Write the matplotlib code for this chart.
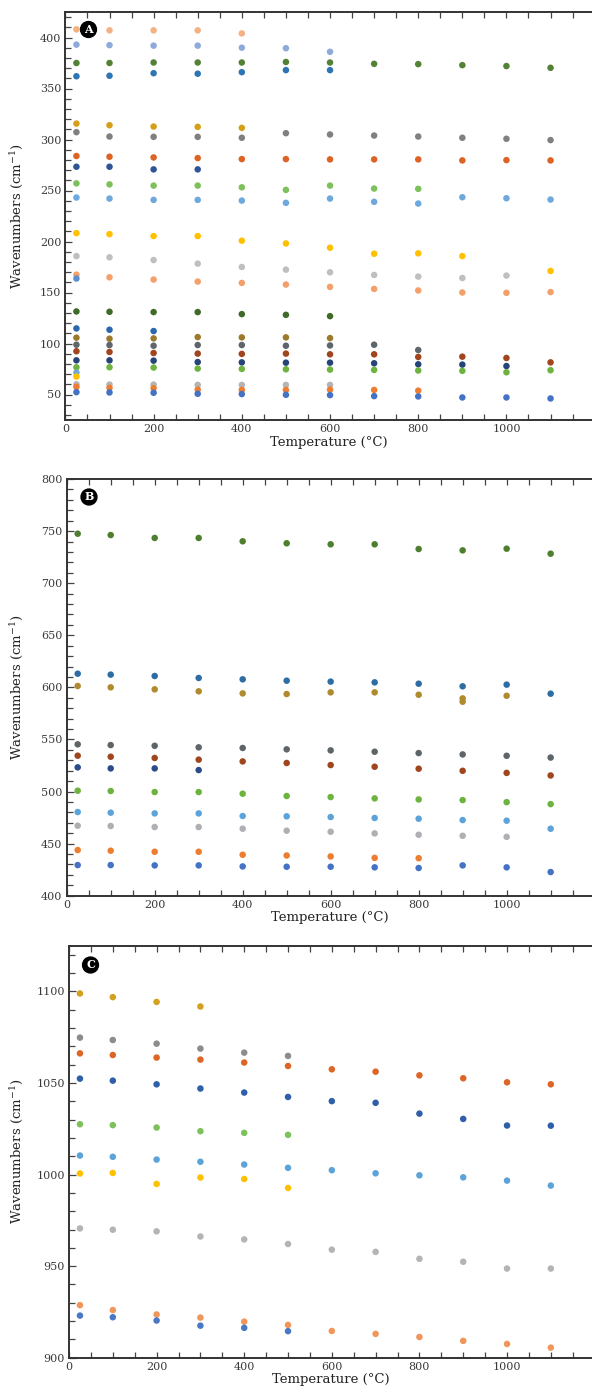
import numpy as np
import matplotlib
matplotlib.use("Agg")
import matplotlib.pyplot as plt
from matplotlib.ticker import MultipleLocator

nan = np.nan
temps = [25, 100, 200, 300, 400, 500, 600, 700, 800, 900, 1000, 1100]

# ---------------- Panel A ----------------
a_peach   = [408, 407, 407, 407, 404, nan, nan, nan, nan, nan, nan, nan]
a_lblue2  = [393, 392.5, 392, 392, 390, 389.5, 386, nan, nan, nan, nan, nan]
a_green   = [375, 375, 375.5, 375.5, 375.5, 376, 375.5, 374.2, 373.9, 372.9, 372, 370.3]
a_blue    = [362, 362.5, 365, 364.5, 366, 368, 368, nan, nan, nan, nan, nan]
a_gold    = [315.6, 314, 312.7, 312.4, 311.4, nan, nan, nan, nan, nan, nan, nan]
a_gray    = [307.2, 302.9, 302.6, 302.6, 301.7, 306.2, 304.9, 303.9, 302.9, 301.7, 300.7, 299.4]
a_orange  = [283.8, 283.1, 282.4, 281.8, 280.8, 280.8, 280.5, 280.5, 280.5, 279.5, 279.8, 279.5]
a_navy    = [273.3, 273.3, 270.7, 270.7, nan, nan, nan, nan, nan, nan, nan, nan]
a_lgreen  = [257, 256, 254.8, 254.8, 253.1, 250.6, 254.8, 251.9, 251.6, nan, nan, nan]
a_lblue   = [243.1, 242.1, 240.8, 240.8, 240.1, 237.9, 242.1, 238.9, 237.2, 243.4, 242.4, 241.1]
a_yellow  = [208.2, 207.2, 205.3, 205.3, 200.8, 198.1, 193.9, 188, 188.4, 185.7, nan, 171.1]
a_lgray   = [185.7, 184.5, 181.8, 178.3, 175, 172.4, 169.8, 167.2, 165.6, 164.2, 166.6, nan]
a_salmon  = [167.5, 164.9, 162.7, 160.7, 159.4, 157.8, 155.5, 153.5, 152, 150, 149.7, 150.4]
a_bluex   = [163.7, nan, nan, nan, nan, nan, nan, nan, nan, nan, nan, nan]
a_dgreen  = [131.4, 131.1, 130.8, 130.8, 128.8, 128.1, 126.8, nan, nan, nan, nan, nan]
a_blue2   = [114.8, 113.5, 112.2, nan, nan, nan, nan, nan, nan, nan, nan, nan]
a_brown   = [105.7, 104.7, 105, 106.3, 106, 106, 105.3, nan, nan, nan, nan, nan]
a_dgray   = [98.8, 98.5, 97.8, 98.5, 98.5, 97.8, 98.1, 98.8, 93.6, nan, nan, nan]
a_rust    = [92.4, 91.7, 90.7, 90.1, 89.8, 90.1, 89.4, 89.4, 86.8, 87.1, 85.8, 81.5]
a_navy2   = [83.5, 83.5, 83.2, 81.8, 81.5, 81.2, 81.2, 80.6, 79.6, 79.3, 77.9, nan]
a_green2  = [76.7, 76.7, 76.4, 75.4, 75.1, 74.7, 74.4, 74.1, 73.5, 73.2, 71.8, 73.8]
a_lbluex  = [71.5, nan, nan, nan, nan, nan, nan, nan, nan, nan, nan, nan]
a_yellowx = [67.6, nan, nan, nan, nan, nan, nan, nan, nan, nan, nan, nan]
a_lgray2  = [60, 59.7, 59.7, 59.4, 59.4, 59.4, 59.4, nan, nan, nan, nan, nan]
a_orange2 = [57.5, 56.5, 56.2, 54.8, 54.5, 54.5, 54.8, 54.5, 53.8, nan, nan, nan]
a_blue3   = [52.3, 52, 51.7, 50.7, 50.4, 49.7, 49.4, 48.4, 48.1, 47.1, 47.1, 46.1]

# ---------------- Panel B ----------------
b_green   = [747.5, 746.2, 743.4, 743.4, 740.2, 738.3, 737.3, 737.3, 732.8, 731.5, 733.1, 728.3]
b_blue    = [613.1, 612.2, 610.9, 609, 607.7, 606.4, 605.5, 604.8, 603.5, 601, 602.6, 593.9]
b_brown   = [601.3, 600, 598.1, 596.2, 594.2, 593.6, 595.2, 595.2, 592.9, 589.4, 591.9, nan]
b_brownx  = [nan, nan, nan, nan, nan, nan, nan, nan, nan, 586.2, nan, nan]
b_dgray   = [545.3, 544.6, 543.9, 542.4, 541.8, 540.5, 539.5, 538.2, 536.9, 535.6, 534.3, 532.6]
b_rust    = [534.4, 533.4, 532.2, 530.6, 528.9, 527.4, 525.4, 523.8, 521.9, 519.9, 517.9, 515.4]
b_navy    = [523.2, 522.2, 522.2, 520.6, nan, nan, nan, nan, nan, nan, nan, nan]
b_green2  = [500.8, 500.5, 499.5, 499.5, 497.9, 495.7, 494.7, 493.4, 492.4, 491.8, 489.8, 487.9]
b_lblue   = [480.3, 479.7, 479, 479, 476.5, 476.2, 475.5, 474.6, 473.9, 472.6, 472, 464.3]
b_lgray   = [467.2, 466.9, 465.9, 465.9, 464.3, 462.4, 461.4, 459.8, 458.5, 457.5, 456.5, nan]
b_orange  = [443.8, 443.2, 442.2, 442.2, 439.3, 438.6, 437.7, 436.3, 436, nan, nan, nan]
b_blue2   = [429.4, 429.4, 429.1, 429.1, 428.1, 427.8, 427.8, 427.2, 426.6, 429.1, 427.2, 422.7]

# ---------------- Panel C ----------------
c_gold    = [1098.9, 1096.9, 1094.3, 1091.8, nan, nan, nan, nan, nan, nan, nan, nan]
c_gray    = [1074.8, 1073.5, 1071.5, 1068.8, 1066.6, 1064.8, nan, nan, nan, nan, nan, nan]
c_orange  = [1066.2, 1065.3, 1063.9, 1062.8, 1061.2, 1059.3, 1057.5, 1056.2, 1054.2, 1052.6, 1050.4, 1049.3]
c_blue    = [1052.4, 1051.3, 1049.3, 1047, 1044.8, 1042.4, 1040.1, 1039.2, 1033.3, 1030.4, 1026.8, 1026.7]
c_lgreen  = [1027.5, 1027, 1025.7, 1023.7, 1022.8, 1021.7, nan, nan, nan, nan, nan, nan]
c_lblue   = [1010.4, 1009.7, 1008.2, 1007, 1005.5, 1003.7, 1002.4, 1000.7, 999.6, 998.5, 996.7, 994]
c_yellow  = [1000.6, 1000.9, 994.9, 998.4, 997.6, 992.7, nan, nan, nan, nan, nan, nan]
c_lgray   = [970.6, 969.9, 969, 966.2, 964.6, 962.1, 959, 957.8, 954, 952.4, 948.7, 948.7]
c_orange2 = [928.7, 926, 923.6, 921.9, 919.7, 917.9, 914.6, 913, 911.3, 909.2, 907.5, 905.5]
c_blue2   = [923, 922.1, 920.3, 917.5, 916.3, 914.5, nan, nan, nan, nan, nan, nan]

panel_a = [
    (a_peach, '#F4B183'), (a_lblue2, '#8EAADB'), (a_green, '#548235'), (a_blue, '#2E75B6'),
    (a_gold, '#D4A017'), (a_gray, '#808080'), (a_orange, '#DD6325'), (a_navy, '#2F5597'),
    (a_lgreen, '#7DC15B'), (a_lblue, '#6FA8DC'), (a_yellow, '#FFC000'), (a_lgray, '#BFBFBF'),
    (a_salmon, '#F4A06A'), (a_bluex, '#5B8FD0'), (a_dgreen, '#3E6B27'), (a_blue2, '#2A68AE'),
    (a_brown, '#9C7A2C'), (a_dgray, '#5F666B'), (a_rust, '#A0451E'), (a_navy2, '#264478'),
    (a_green2, '#6DB33F'), (a_lbluex, '#6FA8DC'), (a_yellowx, '#FFC000'), (a_lgray2, '#B4B4B4'),
    (a_orange2, '#ED7D31'), (a_blue3, '#4472C4'),
]
panel_b = [
    (b_green, '#4E7F2E'), (b_blue, '#2E6DA4'), (b_brown, '#B08A2E'), (b_brownx, '#B08A2E'),
    (b_dgray, '#5E6569'), (b_rust, '#A0461F'), (b_navy, '#2A4D8A'), (b_green2, '#6DB33F'),
    (b_lblue, '#5BA3D9'), (b_lgray, '#AEB0B3'), (b_orange, '#ED7D31'), (b_blue2, '#4472C4'),
]
panel_c = [
    (c_gold, '#D4A020'), (c_gray, '#8C8C8C'), (c_orange, '#DD6525'), (c_blue, '#2F5FA8'),
    (c_lgreen, '#7DC15B'), (c_lblue, '#5BA3D9'), (c_yellow, '#FFC000'), (c_lgray, '#B4B4B4'),
    (c_orange2, '#F0965A'), (c_blue2, '#4A78C4'),
]

plt.rcParams['font.family'] = ['DejaVu Serif']
plt.rcParams['mathtext.fontset'] = 'dejavuserif'

W, H = 592, 1393
fig = plt.figure(figsize=(W / 100, H / 100), dpi=100)

specs = [
    (65.4, 12.0, 420.0, (25, 425), 'A', panel_a, (88.5, 29.5)),
    (66.7, 479.0, 895.7, (400, 800), 'B', panel_b, (89.0, 497.0)),
    (69.0, 945.7, 1357.7, (900, 1125), 'C', panel_c, (90.5, 965.0)),
]

spine_col = '#333333'
text_col = '#3a3a3a'

for left, top, bottom, ylim, lab, series, lab_pos in specs:
    ax = fig.add_axes([left / W, 1 - bottom / H, 1 - left / W, (bottom - top) / H])
    for vals, col in series:
        ax.scatter(temps, vals, s=22, color=col, edgecolors='none', zorder=3)
    ax.set_xlim(0, 1194)
    ax.set_ylim(*ylim)
    ax.xaxis.set_major_locator(MultipleLocator(200))
    ax.xaxis.set_minor_locator(MultipleLocator(50))
    ax.yaxis.set_major_locator(MultipleLocator(50))
    ax.yaxis.set_minor_locator(MultipleLocator(10))
    ax.spines['right'].set_visible(False)
    for s in ['left', 'bottom', 'top']:
        ax.spines[s].set_color(spine_col)
        ax.spines[s].set_linewidth(1.4)
    ax.tick_params(axis='both', which='both', direction='in', color='#444444',
                   labelcolor=text_col, labelsize=8, width=0.9)
    ax.tick_params(axis='x', which='both', top=True, length=4.5, pad=3)
    ax.tick_params(axis='y', which='major', length=5, pad=3)
    ax.tick_params(axis='y', which='minor', length=4.5)
    ax.set_xlabel('Temperature (°C)', fontsize=9.5, color='#222222', labelpad=1)
    ax.set_ylabel('Wavenumbers (cm$^{-1}$)', fontsize=9.5, color='#222222')
    width_px = W - left
    ax.yaxis.set_label_coords((25 - left) / width_px, 0.5)
    fig.text(lab_pos[0] / W, 1 - lab_pos[1] / H, lab, color='white', fontsize=8,
             fontweight='bold', ha='center', va='center',
             bbox=dict(boxstyle='circle,pad=0.22', fc='black', ec='black'))

fig.savefig('out.png', dpi=100)
